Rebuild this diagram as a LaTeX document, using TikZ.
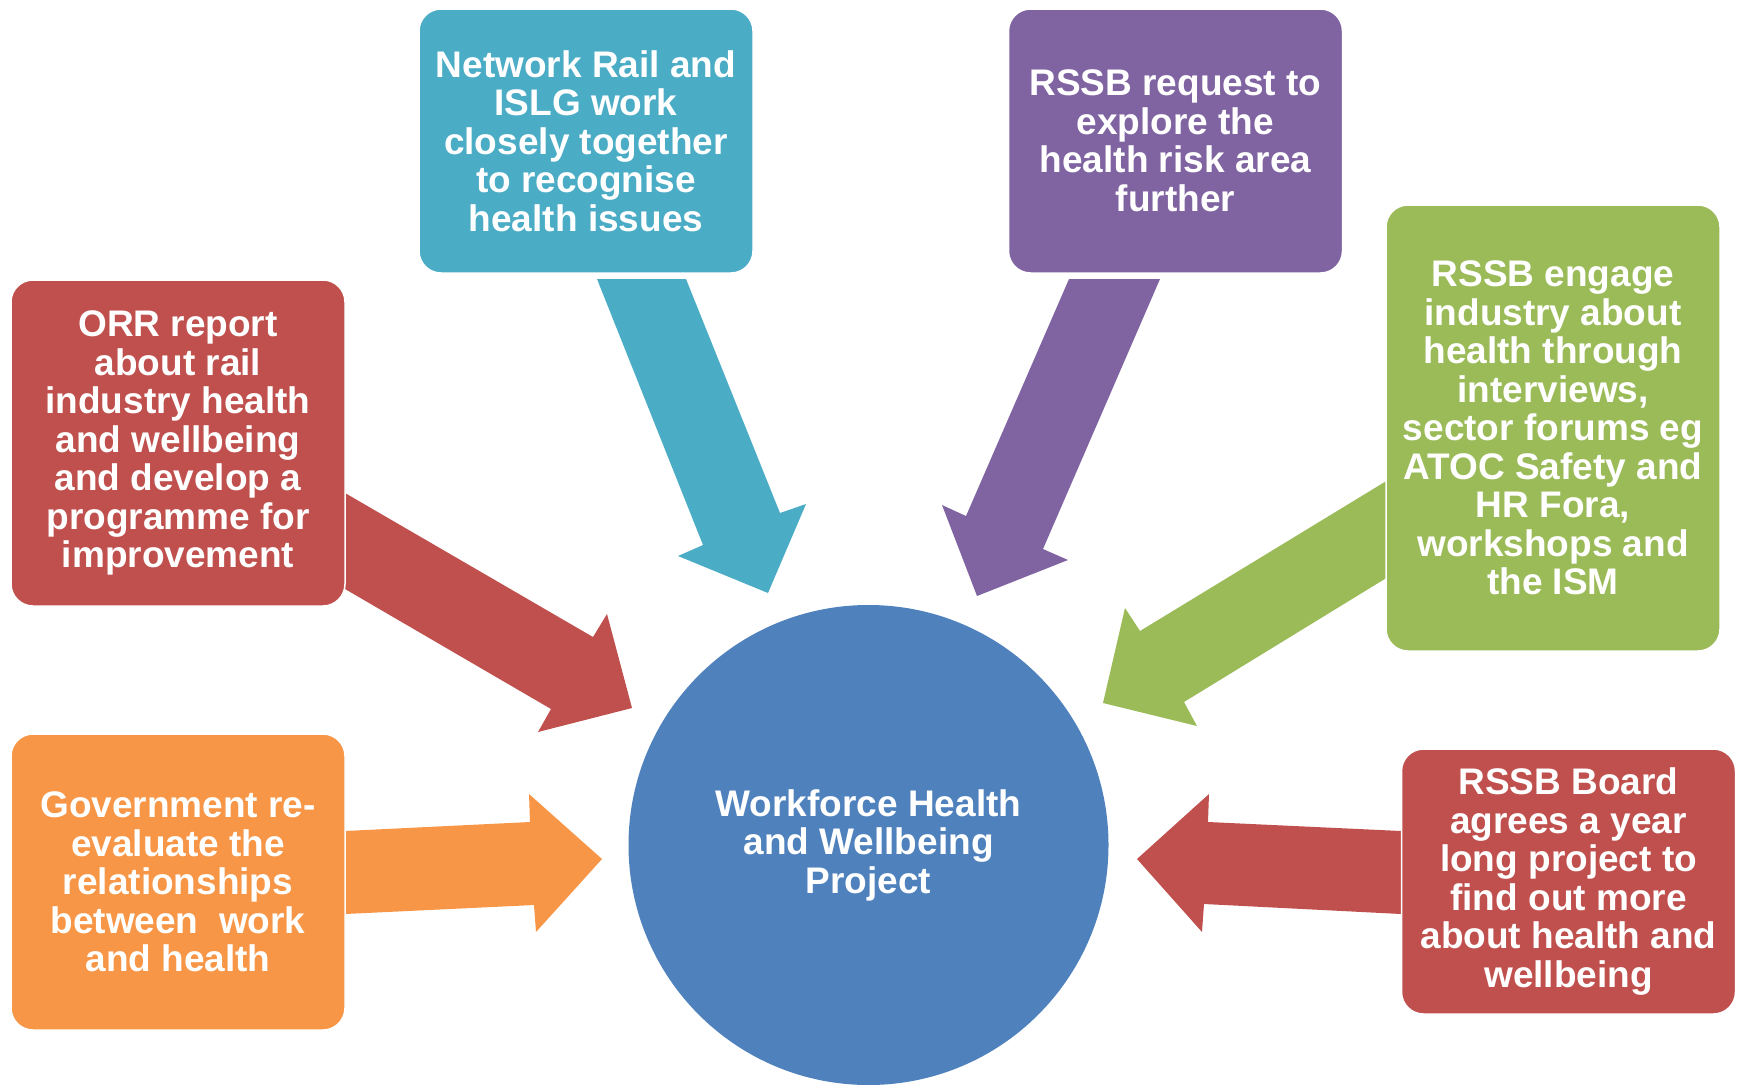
\documentclass[tikz,border=0pt]{standalone}
\usepackage{fontspec}
\setmainfont{Liberation Sans}
\definecolor{cteal}{HTML}{4BACC6}
\definecolor{cpurple}{HTML}{8064A2}
\definecolor{cred}{HTML}{C0504D}
\definecolor{cgreen}{HTML}{9BBB59}
\definecolor{corange}{HTML}{F79646}
\definecolor{cblue}{HTML}{4F81BD}
\tikzset{
  box/.style={draw=white, line width=1.5pt, rounded corners=22pt, text=white,
    align=center, inner sep=0pt, minimum width=334pt,
    font=\fontsize{37}{38.5}\selectfont\bfseries},
  blockarrow/.style={draw=none}
}
\begin{document}
\begin{tikzpicture}[x=1pt,y=-1pt]
\useasboundingbox (0,0) rectangle (1737,1084);
% block arrows
\fill[cteal] (597,279) -- (686,279) -- (780,513) -- (806,504) -- (768,593) -- (678,556) -- (703,545) -- cycle;
\fill[cpurple] (1069,279) -- (1160,279) -- (1043,549) -- (1068,560) -- (977,596) -- (942,505) -- (966,516) -- cycle;
\fill[cred] (345,493) -- (593,637) -- (607,614) -- (632,708) -- (538,732) -- (551,709) -- (345,589) -- cycle;
\fill[cgreen] (1388,480) -- (1140,631) -- (1125,608) -- (1103,703) -- (1197,726) -- (1184,702) -- (1388,577) -- cycle;
\fill[corange] (345,831) -- (530,822) -- (529,794) -- (602,859) -- (536,932) -- (534,905) -- (345,914) -- cycle;
\fill[cred] (1401,831) -- (1208,822) -- (1209,794) -- (1137,859) -- (1202,932) -- (1204,904) -- (1401,914) -- cycle;
% boxes
\node[box, fill=cteal, minimum height=264pt] (nr) at (586,141)
  {Network Rail and\\ISLG work\\closely together\\to recognise\\health issues};
\node[box, fill=cpurple, minimum height=264pt] (rq) at (1175.5,141)
  {RSSB request to\\explore the\\health risk area\\further};
\node[box, fill=cred, minimum height=326pt] (orr) at (178,443)
  {ORR report\\about rail\\industry health\\and wellbeing\\and develop a\\programme for\\improvement};
\node[box, fill=cgreen, minimum height=446pt] (eng) at (1553,428)
  {RSSB engage\\industry about\\health through\\interviews,\\sector forums eg\\ATOC Safety and\\HR Fora,\\workshops and\\the ISM};
\node[box, fill=corange, minimum height=296pt] (gov) at (178,882)
  {Government re-\\evaluate the\\relationships\\between\ \ work\\and health};
\node[box, fill=cred, minimum height=265pt] (brd) at (1568.5,881.5)
  {RSSB Board\\agrees a year\\long project to\\find out more\\about health and\\wellbeing};
% centre
\node[circle, fill=cblue, minimum size=480pt, inner sep=0pt, text=white, align=center,
  font=\fontsize{37}{38.5}\selectfont\bfseries] (c) at (868.5,845)
  {Workforce Health\\and Wellbeing\\Project};
\end{tikzpicture}
\end{document}
